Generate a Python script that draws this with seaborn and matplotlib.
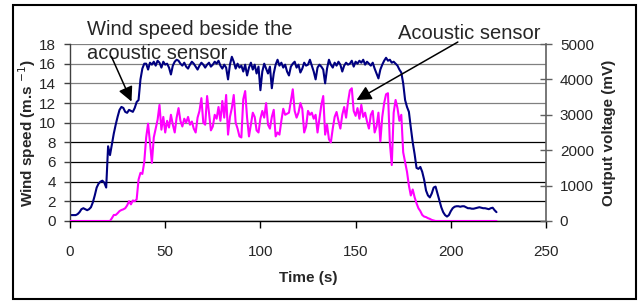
import pandas as pd
import seaborn as sns
import matplotlib.pyplot as plt
from matplotlib.patches import Rectangle

# time axis (s), one reading per second
time_s = list(range(0, 225))

# wind speed beside the acoustic sensor (m/s), left axis
wind_speed = [
    0.6, 0.6, 0.6, 0.6, 0.7, 0.9, 1.2, 1.3, 1.2, 1.1,
    1.2, 1.4, 1.9, 2.6, 3.4, 3.8, 4.0, 4.1, 3.9, 3.4,
    7.6, 6.7, 7.8, 8.9, 9.8, 10.6, 11.3, 11.6, 11.5, 11.1,
    11.0, 11.3, 11.2, 11.1, 11.5, 12.1, 12.3, 14.4, 15.5, 16.0,
    16.0, 15.4, 16.1, 15.9, 16.2, 15.8, 16.3, 16.1, 15.6, 16.2,
    15.9, 16.0, 15.6, 14.9, 15.8, 16.2, 16.4, 16.3, 16.0, 15.8,
    16.1, 15.7, 15.5, 15.9, 16.2, 16.0, 15.7, 15.4, 15.8, 16.1,
    15.9, 15.6, 15.9, 16.1, 15.7, 15.9, 16.2, 16.0, 16.3, 15.8,
    15.5, 15.9, 15.6, 14.4, 15.9, 16.7, 16.2, 15.5, 16.0, 15.6,
    15.8, 15.2, 15.9, 14.8, 15.6, 16.1, 15.4, 15.9, 15.0, 15.7,
    13.3, 15.2, 16.0, 15.5, 15.0, 15.7, 13.5, 15.0, 15.9, 16.4,
    15.8, 16.1, 15.6, 15.9, 15.2, 14.8, 15.7, 16.0, 16.2, 15.6,
    15.9, 15.1, 15.5, 16.1, 15.8, 15.9, 16.4, 15.8, 15.2, 14.4,
    15.6, 15.9, 15.7, 15.4, 14.0, 15.5, 16.4, 15.9, 15.6, 16.1,
    15.8, 16.2, 15.9, 15.2, 15.8, 16.1, 15.9, 16.0, 16.3, 15.7,
    16.2, 16.0, 16.3, 16.1, 16.4, 15.9, 16.2, 16.0, 15.8, 16.1,
    15.5, 15.0, 14.5, 15.4, 15.9, 16.3, 16.6, 16.3, 16.4, 16.1,
    16.2, 16.0, 15.8, 15.4, 15.1, 14.0, 12.3, 11.6, 11.1, 9.5,
    8.0, 6.8, 5.4, 5.3, 5.5, 5.0, 4.2, 3.1, 2.6, 2.4,
    2.8, 3.4, 3.5, 2.8, 2.1, 1.4, 0.9, 0.6, 0.45, 0.6,
    1.0, 1.3, 1.45, 1.5, 1.5, 1.45, 1.5, 1.5, 1.4, 1.3,
    1.3, 1.25, 1.25, 1.3, 1.35, 1.4, 1.35, 1.3, 1.3, 1.25,
    1.2, 1.3, 1.35, 1.1, 0.9,
]

# acoustic sensor output (mV), right axis
sensor_mv = [
    0, 0, 0, 0, 0, 0, 0, 0, 0, 0,
    0, 0, 0, 0, 0, 0, 0, 0, 0, 0,
    0, 0, 80, 170, 170, 220, 280, 310, 330, 360,
    440, 560, 470, 580, 560, 610, 1170, 1360, 1330, 1670,
    2360, 2750, 2220, 1640, 2360, 2610, 2860, 3280, 2580, 2940,
    2500, 2830, 2640, 3000, 2720, 2500, 2920, 3190, 2830, 2670,
    2890, 2780, 2940, 2720, 2810, 2610, 2500, 2920, 3110, 3470,
    2780, 2720, 3530, 3060, 2560, 2670, 3000, 2890, 3220, 2830,
    3390, 2920, 3560, 2440, 2940, 3190, 3560, 2780, 2610, 2390,
    2360, 3440, 3670, 2920, 2390, 2720, 3060, 2940, 2560, 2500,
    2890, 3110, 2920, 3330, 2720, 2610, 2940, 3140, 2390, 2500,
    2440, 2830, 3170, 3000, 3030, 3060, 3390, 3720, 3110, 2920,
    3060, 3330, 3170, 2500, 2670, 3110, 3000, 3060, 2890, 3000,
    2500, 2890, 3280, 3530, 2440, 2720, 2310, 2220, 2610, 2940,
    3080, 2830, 2610, 3000, 3220, 2920, 3360, 3690, 3750, 3110,
    2970, 3190, 2890, 3280, 2940, 3060, 2810, 2610, 3000, 3110,
    2500, 2670, 3060, 2250, 2940, 3330, 3580, 3610, 2200, 1580,
    3060, 3420, 3190, 2830, 3000, 1940, 1670, 1390, 1000, 720,
    890, 670, 500, 360, 280, 170, 125, 110, 80, 60,
    30, 15, 0, 0, 0, 0, 0, 0, 0, 0,
    0, 0, 0, 0, 0, 0, 0, 0, 0, 0,
    0, 0, 0, 0, 0, 0, 0, 0, 0, 0,
    0, 0, 0, 0, 0,
]

x_ticks = [0, 50, 100, 150, 200, 250]
left_ticks = [0, 2, 4, 6, 8, 10, 12, 14, 16, 18]
right_ticks = [0, 1000, 2000, 3000, 4000, 5000]

df = pd.DataFrame({'Time': time_s, 'Wind': wind_speed, 'Sensor': sensor_mv})

sns.set_style('white')
plt.rcParams['font.family'] = ['Liberation Sans', 'DejaVu Sans']

fig = plt.figure(figsize=(6.4, 3.01), dpi=100)
ax = fig.add_axes([0.1094, 0.2658, 0.7437, 0.588])
ax2 = ax.twinx()

sns.lineplot(data=df, x='Time', y='Wind', ax=ax, color='#000080', lw=1.5)
sns.lineplot(data=df, x='Time', y='Sensor', ax=ax2, color='#ff00ff', lw=1.5)

ax.set_xlim(0, 250)
ax.set_ylim(0, 18)
ax2.set_ylim(0, 5000)
ax.set_xticks(x_ticks)
ax.set_yticks(left_ticks)
ax2.set_yticks(right_ticks)

# horizontal gridlines, upper ones lighter as in the original
ax.yaxis.grid(True, color='black', lw=0.9)
for val, gl in zip(left_ticks, ax.get_ygridlines()):
    if val >= 10:
        gl.set_color('#808080')
ax2.grid(False)

for a in (ax, ax2):
    a.spines['top'].set_visible(False)
ax.spines['right'].set_visible(False)
ax2.spines['left'].set_visible(False)
ax2.spines['bottom'].set_visible(False)
ax.spines['left'].set_color('#404040')
ax.spines['bottom'].set_color('black')
ax2.spines['right'].set_color('#606060')
for s in ('left', 'bottom'):
    ax.spines[s].set_linewidth(1.0)
ax2.spines['right'].set_linewidth(1.2)

ax.tick_params(axis='x', direction='out', length=5, width=1, pad=12,
               labelsize=11, bottom=True, color='black')
ax.tick_params(axis='y', direction='out', length=4, width=1, pad=6,
               labelsize=11, left=True, color='#404040')
ax2.tick_params(axis='y', direction='inout', length=8, width=1, pad=6,
                labelsize=11, right=True, color='#606060')

ax.set_xlabel('Time (s)', fontsize=11, fontweight='bold')
ax.set_ylabel(r'Wind speed (m.s $^{-1}$)', fontsize=11, fontweight='bold')
ax2.set_ylabel('Output voltage (mV)', fontsize=11, fontweight='bold')
ax.xaxis.set_label_coords(0.5, -0.28)
ax.yaxis.set_label_coords(-0.067, 0.5)
ax2.yaxis.set_label_coords(1.118, 0.5)

arrow = dict(arrowstyle='-|>', mutation_scale=22, color='black', lw=1.1,
             shrinkA=0, shrinkB=0)
ax2.annotate('', xy=(32.3, 12.15 * 5000 / 18), xytext=(21.8, 16.7 * 5000 / 18),
             xycoords='data', textcoords='data', arrowprops=arrow)
ax2.annotate('', xy=(150.5, 12.3 * 5000 / 18), xytext=(203.7, 18.2 * 5000 / 18),
             xycoords='data', textcoords='data', arrowprops=arrow,
             annotation_clip=False)
ax.text(8.8, 20.4, 'Wind speed beside the\nacoustic sensor', fontsize=14.5,
        ha='left', va='top', linespacing=1.3, clip_on=False)
ax.text(172.1, 20.0, 'Acoustic sensor', fontsize=14.5,
        ha='left', va='top', clip_on=False)

fig.patches.append(Rectangle((0.021, 0.0066), 0.973, 0.9764, transform=fig.transFigure,
                             fill=False, edgecolor='black', lw=1.5))

fig.savefig('out.png', dpi=100)
